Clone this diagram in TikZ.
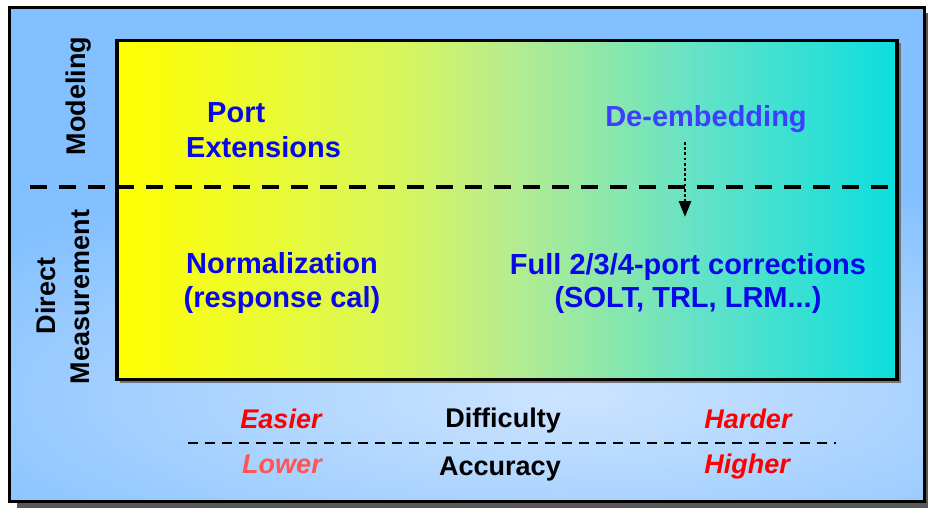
\documentclass[tikz,border=0pt]{standalone}
\usepackage{fontspec}
\setmainfont{Liberation Sans}
\usetikzlibrary{arrows.meta}
\definecolor{frameblue}{RGB}{130,192,255}
\definecolor{glowblue}{RGB}{205,228,255}
\definecolor{txtblue}{RGB}{8,8,232}
\definecolor{deblue}{RGB}{62,62,255}
\definecolor{lightred}{RGB}{255,85,85}
\definecolor{gyellow}{RGB}{255,255,0}
\definecolor{gone}{RGB}{216,246,92}
\definecolor{gtwo}{RGB}{186,237,138}
\definecolor{gthree}{RGB}{98,226,200}
\definecolor{gcyan}{RGB}{12,222,222}
\pgfdeclarehorizontalshading{panelgrad}{100bp}{color(0bp)=(gyellow); color(25bp)=(gyellow); color(43bp)=(gone); color(49.5bp)=(gtwo); color(62.5bp)=(gthree); color(75bp)=(gcyan); color(100bp)=(gcyan)}
\tikzset{
  bluetxt/.style={text=txtblue, font=\fontsize{29}{34}\selectfont\bfseries, inner sep=0pt, anchor=base},
  sidetxt/.style={text=black, font=\fontsize{27}{34}\selectfont\bfseries, inner sep=0pt, anchor=base, rotate=90},
  scaletxt/.style={font=\fontsize{27}{34}\selectfont\bfseries, inner sep=0pt, anchor=base},
  redtxt/.style={scaletxt, text=red, font=\fontsize{27}{34}\selectfont\bfseries\itshape},
}
\begin{document}
\begin{tikzpicture}[x=1pt,y=-1pt]
\useasboundingbox (0,0) rectangle (928,508);
% outer frame shadow
\fill[black!65] (17,13) rectangle (930,509);
% outer frame
\fill[frameblue] (9.5,7.5) rectangle (924.5,501.5);
\begin{scope}
  \clip (9.5,7.5) rectangle (924.5,501.5);
  \shade[inner color=glowblue, outer color=frameblue] (560,395) ellipse (760 and 230);
\end{scope}
\draw[line width=3pt] (9.5,7.5) rectangle (924.5,501.5);
% inner panel
\fill[black!55] (120,43.5) rectangle (900.5,383);
\shade[shading=panelgrad] (117,40.5) rectangle (897,379.5);
\draw[line width=3.5pt] (117,40.5) rectangle (897,379.5);
% divider
\coordinate (divL) at (30,187);
\coordinate (divR) at (893,187);
\draw[line width=3.5pt, dash pattern=on 17pt off 12pt] (divL) -- (divR);
% side labels
\node[sidetxt] (modeling) at (85,96) {Modeling};
\node[sidetxt] (direct) at (55,296) {Direct};
\node[sidetxt] (meas) at (89,297) {Measurement};
% panel texts
\node[bluetxt, anchor=base west] (port) at (207,122) {Port};
\node[bluetxt, anchor=base west] (ext) at (186,157) {Extensions};
\node[bluetxt, text=deblue] (deemb) at (706,127) {De-embedding};
\node[bluetxt] (norm) at (282,273) {Normalization};
\node[bluetxt] (resp) at (282,307) {(response cal)};
\node[bluetxt] (full) at (688,274) {Full 2/3/4-port corrections};
\node[bluetxt] (solt) at (688,307) {(SOLT, TRL, LRM...)};
% dotted arrow
\coordinate (arrS) at (685,142);
\coordinate (arrE) at (685,217);
\draw[line width=2.8pt, dash pattern=on 2.8pt off 2.4pt, -{Triangle[length=16pt,width=12pt]}] (arrS) -- (arrE);
% bottom scale
\node[redtxt] (easier) at (281,428) {Easier};
\node[scaletxt] (diff) at (503,427) {Difficulty};
\node[redtxt] (harder) at (748,428) {Harder};
\coordinate (scaleL) at (188,443);
\coordinate (scaleR) at (836,443);
\draw[line width=2.4pt, dash pattern=on 10pt off 7pt] (scaleL) -- (scaleR);
\node[redtxt, text=lightred] (lower) at (282,473) {Lower};
\node[scaletxt] (acc) at (500,475) {Accuracy};
\node[redtxt] (higher) at (747,473) {Higher};
\end{tikzpicture}
\end{document}
